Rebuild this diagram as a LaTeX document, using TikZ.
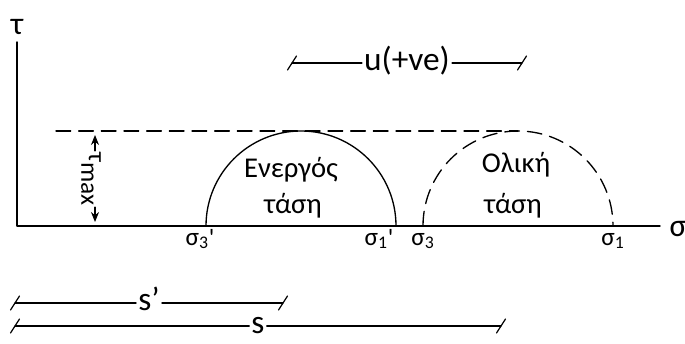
\documentclass[tikz,border=0pt]{standalone}
\usepackage{fontspec}
\setmainfont{Carlito}
\newfontfamily\primefont{Carlito}
\usetikzlibrary{arrows.meta}
\tikzset{
  axisline/.style={line width=1.1pt},
  circline/.style={line width=1pt},
  dashline/.style={line width=1pt,dash pattern=on 11pt off 6pt},
  dimline/.style={line width=0.9pt},
  siglbl/.style={font=\fontsize{19}{20}\selectfont,inner sep=0pt,anchor=base},
  axlbl/.style={font=\fontsize{24}{26}\selectfont,inner sep=0pt},
  bodytxt/.style={font=\fontsize{21.5}{22}\selectfont,inner sep=0pt,anchor=base},
  dimlbl/.style={font=\fontsize{25}{26}\selectfont,inner xsep=1.5pt,inner ysep=0pt,
    text height=11.6pt,text depth=0pt},
  tip/.style={-{Stealth[length=7.5pt,width=6pt]},line width=0.8pt},
}
\newcommand\dimtick[1]{\draw[dimline] ([shift={(-4.5,-7)}]#1) -- ([shift={(4.5,7)}]#1);}
\newcommand\prm{{\primefont\raisebox{-0.06em}{'}}}
\begin{document}
\begin{tikzpicture}[x=0.75pt,y=0.75pt,line cap=round,line join=round]
  \useasboundingbox (0,0) rectangle (685,343);
  % axes
  \coordinate (O) at (17,117);
  \coordinate (ytop) at (17,301);
  \coordinate (xend) at (660,117);
  \draw[axisline] (ytop) -- (O) -- (xend);
  \node[axlbl] (tau) at (17,316) {τ};
  \node[axlbl] (sig) at (678,114) {σ};
  % tau max level
  \draw[dashline] (56,212) -- (518,212);
  % effective and total stress circles
  \draw[circline] (206,117) arc[start angle=180,end angle=0,radius=95];
  \draw[dashline] (423,117) arc[start angle=180,end angle=0,radius=95];
  \node[bodytxt] (eff1) at (291,165) {Ενεργός};
  \node[bodytxt] (eff2) at (293,130) {τάση};
  \node[bodytxt] (tot1) at (516,170) {Ολική};
  \node[bodytxt] (tot2) at (513,130) {τάση};
  % tau max arrow
  \coordinate (tt) at (95,208);
  \coordinate (tb) at (95,121);
  \node[font=\fontsize{19}{20}\selectfont,rotate=-90,inner sep=1pt] (tmax) at (91,164) {τ\raisebox{-0.3em}{max}};
  \draw[tip] (tt |- tmax.west) -- (tt);
  \draw[tip] (tt |- tmax.east) -- (tb);
  % sigma labels
  \node[siglbl] (s3e) at (200,98) {σ\textsubscript{3}\prm};
  \node[siglbl] (s1e) at (379,98) {σ\textsubscript{1}\prm};
  \node[siglbl] (s3t) at (423,98) {σ\textsubscript{3}};
  \node[siglbl] (s1t) at (613,98) {σ\textsubscript{1}};
  % u dimension
  \coordinate (ua) at (292,280);
  \coordinate (ub) at (522,280);
  \path (ua) -- (ub) node[midway,dimlbl] (ulbl) {u(+ve)};
  \draw[dimline] (ua) -- (ulbl) -- (ub);
  \dimtick{ua}
  \dimtick{ub}
  % s' dimension
  \coordinate (spa) at (15,40);
  \coordinate (spb) at (283,40);
  \path (spa) -- (spb) node[midway,dimlbl] (splbl) {s’};
  \draw[dimline] (spa) -- (splbl) -- (spb);
  \dimtick{spa}
  \dimtick{spb}
  % s dimension
  \coordinate (sa) at (15,17);
  \coordinate (sb) at (501,17);
  \path (sa) -- (sb) node[midway,dimlbl] (slbl) {s};
  \draw[dimline] (sa) -- (slbl) -- (sb);
  \dimtick{sa}
  \dimtick{sb}
\end{tikzpicture}
\end{document}
